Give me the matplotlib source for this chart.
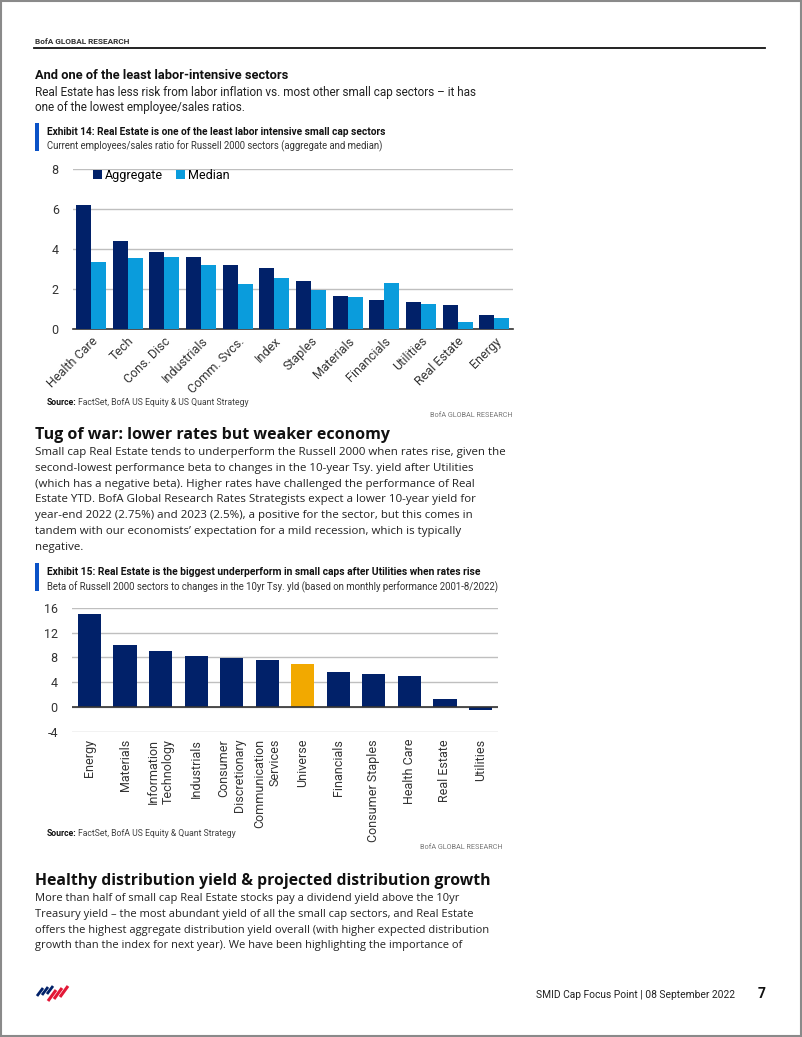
import matplotlib
matplotlib.use("Agg")
import matplotlib.pyplot as plt
from matplotlib.patches import Rectangle
from matplotlib.lines import Line2D
import numpy as np

plt.rcParams["axes.unicode_minus"] = False

# ---------------- data ----------------
sectors1 = ["Health Care", "Tech", "Cons. Disc", "Industrials", "Comm. Svcs.", "Index",
            "Staples", "Materials", "Financials", "Utilities", "Real Estate", "Energy"]
aggregate = [6.2, 4.42, 3.88, 3.63, 3.2, 3.05, 2.41, 1.66, 1.47, 1.36, 1.22, 0.69]
median = [3.38, 3.58, 3.63, 3.2, 2.26, 2.56, 1.97, 1.62, 2.31, 1.26, 0.35, 0.54]
yticks1 = [0, 2, 4, 6, 8]

sectors2 = ["Energy", "Materials", "Information\nTechnology", "Industrials", "Consumer\nDiscretionary",
            "Communication\nServices", "Universe", "Financials", "Consumer Staples", "Health Care",
            "Real Estate", "Utilities"]
beta = [14.95, 10.0, 9.05, 8.3, 7.87, 7.65, 6.96, 5.62, 5.3, 5.03, 1.33, -0.48]
yticks2 = [-4, 0, 4, 8, 12, 16]

NAVY = "#012169"
LBLUE = "#0A9CDC"
GOLD = "#F2A900"
TXT = "#222222"
GRID = "#BFBFBF"

W, H = 802, 1037
fig = plt.figure(figsize=(W / 100, H / 100), dpi=100)
renderer = fig.canvas.get_renderer()

NARROW = ["Liberation Sans Narrow", "Roboto", "DejaVu Sans"]
WIDE = ["Open Sans", "DejaVu Sans"]


def fx(x):
    return x / W


def fy(y):
    return 1 - y / H


def fit_size(s, width, family, weight="normal", base=10):
    t = fig.text(0, 0, s, fontsize=base, family=family, weight=weight)
    w = t.get_window_extent(renderer).width
    t.remove()
    return base * width / w


def put(x, y, s, size, family, weight="normal", color=TXT, ha="left", va="baseline"):
    return fig.text(fx(x), fy(y), s, fontsize=size, family=family, weight=weight,
                    color=color, ha=ha, va=va)


# page border
fig.add_artist(Rectangle((0.001, 0.001), 0.998, 0.998, transform=fig.transFigure,
                         fill=False, edgecolor="#8a8a8a", linewidth=1.5))

# header
sz = fit_size("BofA GLOBAL RESEARCH", 95, NARROW, "bold")
put(35, 44, "BofA GLOBAL RESEARCH", sz, NARROW, "bold", color="#333333")
fig.add_artist(Line2D([fx(34), fx(765)], [fy(48), fy(48)], transform=fig.transFigure,
                      color="#111111", linewidth=1.3))

# section 1
sz = fit_size("And one of the least labor-intensive sectors", 254, NARROW, "bold")
put(35, 79, "And one of the least labor-intensive sectors", sz, NARROW, "bold", color="#111111")
p1 = ["Real Estate has less risk from labor inflation vs. most other small cap sectors \u2013 it has",
      "one of the lowest employee/sales ratios."]
sz = fit_size(p1[0], 448, NARROW)
for i, line in enumerate(p1):
    put(35, 96 + 15.5 * i, line, sz, NARROW)

# exhibit 14 header
fig.add_artist(Rectangle((fx(35), fy(151)), fx(3.5), 28 / H, transform=fig.transFigure,
                         color="#0A52C7", linewidth=0))
t14 = "Exhibit 14: Real Estate is one of the least labor intensive small cap sectors"
s14 = "Current employees/sales ratio for Russell 2000 sectors (aggregate and median)"
put(47, 135, t14, fit_size(t14, 340, NARROW, "bold"), NARROW, "bold", color="#111111")
put(47, 149, s14, fit_size(s14, 338, NARROW), NARROW, color="#333333")

# chart 1
ax1 = fig.add_axes([fx(72.7), fy(329), fx(440), (329 - 169.5) / H])
x = np.arange(len(sectors1))
bw = 0.41
ax1.bar(x - bw / 2, aggregate, bw, color=NAVY, label="Aggregate", zorder=3)
ax1.bar(x + bw / 2, median, bw, color=LBLUE, label="Median", zorder=3)
ax1.set_xlim(-0.5, len(sectors1) - 0.5)
ax1.set_ylim(0, 8)
ax1.set_yticks(yticks1)
ax1.yaxis.grid(True, color=GRID, linewidth=1, zorder=0)
for s in ["left", "right", "top"]:
    ax1.spines[s].set_visible(False)
ax1.spines["bottom"].set_color("#333333")
ax1.spines["bottom"].set_linewidth(1.2)
ax1.tick_params(axis="both", length=0, labelsize=9, colors="#333333")
ax1.tick_params(axis="y", pad=10)
ax1.set_xticks(x)
ax1.set_xticklabels(sectors1, rotation=45, ha="right", rotation_mode="anchor",
                    family=NARROW, fontsize=9)
ax1.tick_params(axis="x", pad=4)
for lab in ax1.get_yticklabels():
    lab.set_family(NARROW)
ax1.legend(loc="upper left", bbox_to_anchor=(0.02, 1.075), ncol=2, frameon=False,
           handlelength=0.7, handleheight=0.7, handletextpad=0.3, columnspacing=1.0,
           prop={"family": NARROW, "size": 9})

# source 1
put(47, 405, "Source:", 6.2, NARROW, "bold", color="#111111")
put(78, 405, "FactSet, BofA US Equity & US Quant Strategy", 6.2, NARROW, color="#444444")
put(513, 417, "BofA GLOBAL RESEARCH", fit_size("BofA GLOBAL RESEARCH", 82, NARROW), NARROW,
    color="#777777", ha="right")

# section 2
h2 = "Tug of war: lower rates but weaker economy"
put(35, 439, h2, fit_size(h2, 354, WIDE, "bold"), WIDE, "bold", color="#111111")
p2 = ["Small cap Real Estate tends to underperform the Russell 2000 when rates rise, given the",
      "second-lowest performance beta to changes in the 10-year Tsy. yield after Utilities",
      "(which has a negative beta). Higher rates have challenged the performance of Real",
      "Estate YTD. BofA Global Research Rates Strategists expect a lower 10-year yield for",
      "year-end 2022 (2.75%) and 2023 (2.5%), a positive for the sector, but this comes in",
      "tandem with our economists\u2019 expectation for a mild recession, which is typically",
      "negative."]
sz = fit_size(p2[0], 468, WIDE)
for i, line in enumerate(p2):
    put(35, 455 + 15.8 * i, line, sz, WIDE)

# exhibit 15 header
fig.add_artist(Rectangle((fx(35), fy(591)), fx(3.5), 28 / H, transform=fig.transFigure,
                         color="#0A52C7", linewidth=0))
t15 = "Exhibit 15: Real Estate is the biggest underperform in small caps after Utilities when rates rise"
s15 = "Beta of Russell 2000 sectors to changes in the 10yr Tsy. yld (based on monthly performance 2001-8/2022)"
put(47, 575, t15, fit_size(t15, 433, NARROW, "bold"), NARROW, "bold", color="#111111")
put(47, 590, s15, fit_size(s15, 456, NARROW), NARROW, color="#333333")

# chart 2
ax2 = fig.add_axes([fx(71.7), fy(732), fx(426.6), (732 - 607.7) / H])
x2 = np.arange(len(sectors2))
cols = [GOLD if s == "Universe" else NAVY for s in sectors2]
ax2.bar(x2, beta, 0.65, color=cols, zorder=3)
ax2.set_xlim(-0.5, len(sectors2) - 0.5)
ax2.set_ylim(-4, 16)
ax2.set_yticks(yticks2)
ax2.yaxis.grid(True, color=GRID, linewidth=1, zorder=0)
for s in ["left", "right", "top", "bottom"]:
    ax2.spines[s].set_visible(False)
ax2.axhline(0, color="#333333", linewidth=1.2, zorder=4)
ax2.tick_params(axis="both", length=0, labelsize=9, colors="#333333")
ax2.tick_params(axis="y", pad=10)
ax2.set_xticks(x2)
ax2.set_xticklabels(sectors2, rotation=90, ha="center", va="top", multialignment="right",
                    family=NARROW, fontsize=9)
ax2.tick_params(axis="x", pad=5)
for lab in ax2.get_yticklabels():
    lab.set_family(NARROW)

# source 2
put(47, 836, "Source:", 6.2, NARROW, "bold", color="#111111")
put(78, 836, "FactSet, BofA US Equity & Quant Strategy", 6.2, NARROW, color="#444444")
put(503, 849, "BofA GLOBAL RESEARCH", fit_size("BofA GLOBAL RESEARCH", 82, NARROW), NARROW,
    color="#777777", ha="right")

# section 3
h3 = "Healthy distribution yield & projected distribution growth"
put(35, 885, h3, fit_size(h3, 457, WIDE, "bold"), WIDE, "bold", color="#111111")
p3 = ["More than half of small cap Real Estate stocks pay a dividend yield above the 10yr",
      "Treasury yield \u2013 the most abundant yield of all the small cap sectors, and Real Estate",
      "offers the highest aggregate distribution yield overall (with higher expected distribution",
      "growth than the index for next year). We have been highlighting the importance of"]
sz = fit_size(p3[2], 451, WIDE)
for i, line in enumerate(p3):
    put(35, 901 + 15.8 * i, line, sz, WIDE)

# footer
ft = "SMID Cap Focus Point | 08 September 2022"
put(735, 998, ft, fit_size(ft, 198, NARROW), NARROW, color="#222222", ha="right")
put(762, 998, "7", 10, NARROW, "bold", color="#111111", ha="center")

# logo (stylised flag stripes)
for i in range(3):
    x0 = 48 + 6 * i
    fig.add_artist(Line2D([fx(x0), fx(x0 + 8)], [fy(1001 - 2 * i), fy(988 - 2 * i + 2)],
                          transform=fig.transFigure, color="#E31837", linewidth=2.2,
                          solid_capstyle="butt"))
for i in range(3):
    x0 = 37 + 5 * i
    fig.add_artist(Line2D([fx(x0), fx(x0 + 6)], [fy(996 - i), fy(988 - i)],
                          transform=fig.transFigure, color=NAVY, linewidth=2.0,
                          solid_capstyle="butt"))

fig.savefig("out.png", dpi=100)
